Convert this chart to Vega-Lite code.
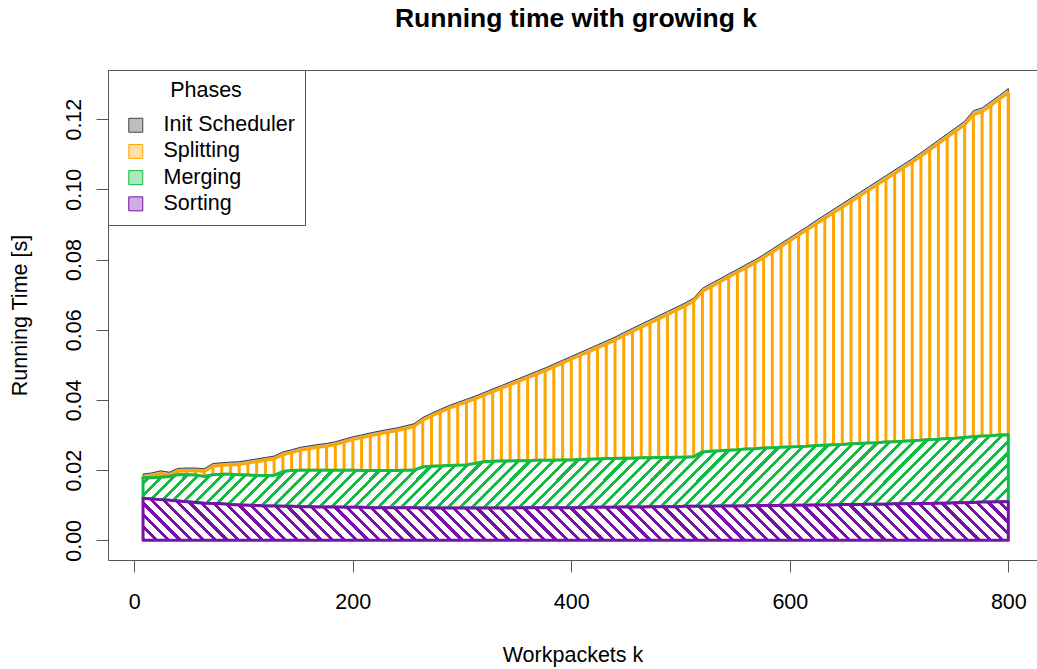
{
"$schema": "https://vega.github.io/schema/vega-lite/v6.json",
"width": 929, "height": 490,
"autosize": {"type": "none"},
"padding": {"left": 108, "top": 70, "right": 0, "bottom": 109},
"background": "white",
"title": {"text": "Running time with growing k", "font": "Liberation Sans", "fontSize": 26.5, "fontWeight": "bold", "color": "#000", "anchor": "middle", "frame": "group", "baseline": "alphabetic", "offset": 16, "dx": 3.5},
"datasets": {
"times": [
{"k":8,"sorting":0.0120,"merging":0.0178,"splitting":0.0181,"total":0.0189},
{"k":16,"sorting":0.0118,"merging":0.0178,"splitting":0.0184,"total":0.0192},
{"k":24,"sorting":0.0116,"merging":0.0180,"splitting":0.0190,"total":0.0198},
{"k":32,"sorting":0.0114,"merging":0.0182,"splitting":0.0186,"total":0.0194},
{"k":40,"sorting":0.0112,"merging":0.0187,"splitting":0.0197,"total":0.0205},
{"k":48,"sorting":0.0110,"merging":0.0187,"splitting":0.0198,"total":0.0206},
{"k":56,"sorting":0.0108,"merging":0.0186,"splitting":0.0198,"total":0.0206},
{"k":64,"sorting":0.0106,"merging":0.0182,"splitting":0.0196,"total":0.0204},
{"k":72,"sorting":0.0105,"merging":0.0187,"splitting":0.0211,"total":0.0219},
{"k":80,"sorting":0.0104,"merging":0.0188,"splitting":0.0213,"total":0.0221},
{"k":88,"sorting":0.0102,"merging":0.0188,"splitting":0.0215,"total":0.0223},
{"k":96,"sorting":0.0101,"merging":0.0187,"splitting":0.0216,"total":0.0224},
{"k":104,"sorting":0.0100,"merging":0.0186,"splitting":0.0220,"total":0.0228},
{"k":112,"sorting":0.0099,"merging":0.0185,"splitting":0.0224,"total":0.0232},
{"k":120,"sorting":0.0098,"merging":0.0185,"splitting":0.0228,"total":0.0236},
{"k":128,"sorting":0.0098,"merging":0.0185,"splitting":0.0232,"total":0.0240},
{"k":136,"sorting":0.0097,"merging":0.0196,"splitting":0.0244,"total":0.0252},
{"k":144,"sorting":0.0097,"merging":0.0199,"splitting":0.0250,"total":0.0258},
{"k":152,"sorting":0.0096,"merging":0.0200,"splitting":0.0257,"total":0.0265},
{"k":160,"sorting":0.0096,"merging":0.0200,"splitting":0.0261,"total":0.0269},
{"k":168,"sorting":0.0095,"merging":0.0200,"splitting":0.0265,"total":0.0273},
{"k":176,"sorting":0.0095,"merging":0.0200,"splitting":0.0268,"total":0.0276},
{"k":184,"sorting":0.0095,"merging":0.0200,"splitting":0.0273,"total":0.0281},
{"k":192,"sorting":0.0094,"merging":0.0200,"splitting":0.0280,"total":0.0288},
{"k":200,"sorting":0.0094,"merging":0.0200,"splitting":0.0287,"total":0.0295},
{"k":208,"sorting":0.0094,"merging":0.0199,"splitting":0.0292,"total":0.0300},
{"k":216,"sorting":0.0093,"merging":0.0199,"splitting":0.0298,"total":0.0306},
{"k":224,"sorting":0.0093,"merging":0.0199,"splitting":0.0303,"total":0.0311},
{"k":232,"sorting":0.0093,"merging":0.0199,"splitting":0.0308,"total":0.0316},
{"k":240,"sorting":0.0093,"merging":0.0199,"splitting":0.0312,"total":0.0320},
{"k":248,"sorting":0.0093,"merging":0.0200,"splitting":0.0318,"total":0.0326},
{"k":256,"sorting":0.0093,"merging":0.0200,"splitting":0.0324,"total":0.0332},
{"k":264,"sorting":0.0092,"merging":0.0209,"splitting":0.0342,"total":0.0350},
{"k":272,"sorting":0.0092,"merging":0.0211,"splitting":0.0354,"total":0.0362},
{"k":280,"sorting":0.0092,"merging":0.0212,"splitting":0.0365,"total":0.0373},
{"k":288,"sorting":0.0092,"merging":0.0213,"splitting":0.0376,"total":0.0384},
{"k":296,"sorting":0.0092,"merging":0.0214,"splitting":0.0385,"total":0.0393},
{"k":304,"sorting":0.0092,"merging":0.0215,"splitting":0.0394,"total":0.0402},
{"k":312,"sorting":0.0092,"merging":0.0219,"splitting":0.0403,"total":0.0411},
{"k":320,"sorting":0.0092,"merging":0.0224,"splitting":0.0413,"total":0.0421},
{"k":328,"sorting":0.0092,"merging":0.0225,"splitting":0.0423,"total":0.0431},
{"k":336,"sorting":0.0092,"merging":0.0226,"splitting":0.0433,"total":0.0441},
{"k":344,"sorting":0.0092,"merging":0.0226,"splitting":0.0443,"total":0.0451},
{"k":352,"sorting":0.0093,"merging":0.0227,"splitting":0.0453,"total":0.0461},
{"k":360,"sorting":0.0093,"merging":0.0227,"splitting":0.0463,"total":0.0471},
{"k":368,"sorting":0.0093,"merging":0.0228,"splitting":0.0473,"total":0.0481},
{"k":376,"sorting":0.0093,"merging":0.0228,"splitting":0.0483,"total":0.0491},
{"k":384,"sorting":0.0093,"merging":0.0228,"splitting":0.0494,"total":0.0502},
{"k":392,"sorting":0.0093,"merging":0.0229,"splitting":0.0505,"total":0.0513},
{"k":400,"sorting":0.0093,"merging":0.0229,"splitting":0.0516,"total":0.0524},
{"k":408,"sorting":0.0093,"merging":0.0230,"splitting":0.0527,"total":0.0535},
{"k":416,"sorting":0.0094,"merging":0.0231,"splitting":0.0537,"total":0.0546},
{"k":424,"sorting":0.0094,"merging":0.0232,"splitting":0.0548,"total":0.0557},
{"k":432,"sorting":0.0094,"merging":0.0233,"splitting":0.0559,"total":0.0568},
{"k":440,"sorting":0.0094,"merging":0.0233,"splitting":0.0570,"total":0.0579},
{"k":448,"sorting":0.0095,"merging":0.0234,"splitting":0.0583,"total":0.0592},
{"k":456,"sorting":0.0095,"merging":0.0234,"splitting":0.0595,"total":0.0604},
{"k":464,"sorting":0.0095,"merging":0.0235,"splitting":0.0607,"total":0.0616},
{"k":472,"sorting":0.0096,"merging":0.0235,"splitting":0.0619,"total":0.0628},
{"k":480,"sorting":0.0096,"merging":0.0236,"splitting":0.0631,"total":0.0640},
{"k":488,"sorting":0.0096,"merging":0.0236,"splitting":0.0643,"total":0.0652},
{"k":496,"sorting":0.0096,"merging":0.0237,"splitting":0.0655,"total":0.0664},
{"k":504,"sorting":0.0097,"merging":0.0237,"splitting":0.0667,"total":0.0676},
{"k":512,"sorting":0.0097,"merging":0.0238,"splitting":0.0681,"total":0.0690},
{"k":520,"sorting":0.0097,"merging":0.0252,"splitting":0.0709,"total":0.0718},
{"k":528,"sorting":0.0097,"merging":0.0254,"splitting":0.0723,"total":0.0732},
{"k":536,"sorting":0.0098,"merging":0.0255,"splitting":0.0736,"total":0.0745},
{"k":544,"sorting":0.0098,"merging":0.0257,"splitting":0.0750,"total":0.0759},
{"k":552,"sorting":0.0098,"merging":0.0258,"splitting":0.0763,"total":0.0772},
{"k":560,"sorting":0.0098,"merging":0.0260,"splitting":0.0777,"total":0.0786},
{"k":568,"sorting":0.0099,"merging":0.0261,"splitting":0.0790,"total":0.0799},
{"k":576,"sorting":0.0099,"merging":0.0263,"splitting":0.0805,"total":0.0814},
{"k":584,"sorting":0.0099,"merging":0.0264,"splitting":0.0821,"total":0.0830},
{"k":592,"sorting":0.0099,"merging":0.0265,"splitting":0.0837,"total":0.0846},
{"k":600,"sorting":0.0100,"merging":0.0266,"splitting":0.0853,"total":0.0862},
{"k":608,"sorting":0.0100,"merging":0.0267,"splitting":0.0869,"total":0.0878},
{"k":616,"sorting":0.0100,"merging":0.0268,"splitting":0.0885,"total":0.0894},
{"k":624,"sorting":0.0101,"merging":0.0270,"splitting":0.0901,"total":0.0911},
{"k":632,"sorting":0.0101,"merging":0.0271,"splitting":0.0917,"total":0.0927},
{"k":640,"sorting":0.0101,"merging":0.0272,"splitting":0.0933,"total":0.0943},
{"k":648,"sorting":0.0102,"merging":0.0273,"splitting":0.0949,"total":0.0959},
{"k":656,"sorting":0.0102,"merging":0.0275,"splitting":0.0965,"total":0.0975},
{"k":664,"sorting":0.0102,"merging":0.0276,"splitting":0.0981,"total":0.0991},
{"k":672,"sorting":0.0103,"merging":0.0277,"splitting":0.0997,"total":0.1007},
{"k":680,"sorting":0.0103,"merging":0.0278,"splitting":0.1013,"total":0.1023},
{"k":688,"sorting":0.0103,"merging":0.0280,"splitting":0.1029,"total":0.1039},
{"k":696,"sorting":0.0104,"merging":0.0281,"splitting":0.1045,"total":0.1055},
{"k":704,"sorting":0.0104,"merging":0.0282,"splitting":0.1061,"total":0.1071},
{"k":712,"sorting":0.0104,"merging":0.0284,"splitting":0.1077,"total":0.1087},
{"k":720,"sorting":0.0105,"merging":0.0285,"splitting":0.1094,"total":0.1104},
{"k":728,"sorting":0.0105,"merging":0.0287,"splitting":0.1112,"total":0.1122},
{"k":736,"sorting":0.0106,"merging":0.0288,"splitting":0.1130,"total":0.1140},
{"k":744,"sorting":0.0106,"merging":0.0290,"splitting":0.1148,"total":0.1158},
{"k":752,"sorting":0.0107,"merging":0.0291,"splitting":0.1166,"total":0.1176},
{"k":760,"sorting":0.0107,"merging":0.0293,"splitting":0.1183,"total":0.1194},
{"k":768,"sorting":0.0108,"merging":0.0295,"splitting":0.1213,"total":0.1224},
{"k":776,"sorting":0.0109,"merging":0.0297,"splitting":0.1221,"total":0.1232},
{"k":784,"sorting":0.0109,"merging":0.0298,"splitting":0.1239,"total":0.1250},
{"k":792,"sorting":0.0110,"merging":0.0300,"splitting":0.1257,"total":0.1268},
{"k":800,"sorting":0.0110,"merging":0.0301,"splitting":0.1275,"total":0.1287}
],
"phases": [{"phase":"Init Scheduler"},{"phase":"Splitting"},{"phase":"Merging"},{"phase":"Sorting"}]
},
"config": {
"font": "Liberation Sans",
"view": {"stroke": "#555", "strokeWidth": 1, "strokeDash": [929, 490, 1419, 0]},
"axis": {"grid": false, "domain": false, "tickSize": 12, "tickColor": "#555", "tickWidth": 1, "labelFont": "Liberation Sans", "labelFontSize": 21.5, "labelColor": "#000", "titleFont": "Liberation Sans", "titleFontSize": 21.5, "titleFontWeight": "normal", "titleColor": "#000", "labelFlush": false},
"axisX": {"labelPadding": 19, "titlePadding": 32},
"axisY": {"labelAngle": -90, "labelAlign": "center", "labelBaseline": "bottom", "labelPadding": 11, "titlePadding": 32},
"legend": {"orient": "top-left", "offset": 0, "padding": 10, "strokeColor": "#555", "fillColor": "#fff", "titleFont": "Liberation Sans", "titleFontSize": 21.5, "titleFontWeight": "normal", "titleColor": "#000", "titleAnchor": "middle", "titlePadding": 13, "labelFont": "Liberation Sans", "labelFontSize": 21.5, "labelColor": "#000", "labelOffset": 17, "symbolType": "square", "symbolSize": 196, "symbolStrokeWidth": 1, "symbolOpacity": 1, "rowPadding": 3.2, "symbolOffset": 7}
},
"layer": [
{"data": {"name": "times"},
 "mark": {"type": "area", "fill": "#BEBEBE", "stroke": "#3a3a3a", "strokeWidth": 1, "strokeJoin": "round"},
 "encoding": {
  "x": {"field": "k", "type": "quantitative", "title": "Workpackets k", "scale": {"domain": [-24.07, 826.25], "nice": false, "zero": false}, "axis": {"values": [0, 200, 400, 600, 800]}},
  "y": {"field": "total", "type": "quantitative", "title": "Running Time [s]", "scale": {"domain": [-0.0056, 0.134], "nice": false, "zero": false}, "axis": {"values": [0, 0.02, 0.04, 0.06, 0.08, 0.1, 0.12], "format": ".2f"}},
  "y2": {"field": "splitting"}}},
{"data": {"name": "times"},
 "mark": {"type": "area", "fill": "transparent", "stroke": "#FFA500", "strokeWidth": 3, "strokeJoin": "round"},
 "encoding": {
  "x": {"field": "k", "type": "quantitative", "title": "Workpackets k"},
  "y": {"field": "splitting", "type": "quantitative", "title": "Running Time [s]"},
  "y2": {"field": "merging"}}},
{"data": {"name": "times"},
 "mark": {"type": "rule", "stroke": "#FFA500", "strokeWidth": 3},
 "encoding": {
  "x": {"field": "k", "type": "quantitative", "title": "Workpackets k"},
  "y": {"field": "merging", "type": "quantitative", "title": "Running Time [s]"},
  "y2": {"field": "splitting"}}},
{"data": {"name": "times"},
 "mark": {"type": "area", "stroke": "#1b4", "strokeWidth": 3, "strokeJoin": "round",
  "fill": {"gradient": "linear", "x1": 0, "y1": 0, "x2": 1.0786, "y2": 0.0914, "stops": [
{"offset":0,"color":"#1b4"},{"offset":0.0045,"color":"#1b4"},{"offset":0.0045,"color":"#fff"},{"offset":0.0125,"color":"#fff"},
{"offset":0.0125,"color":"#1b4"},{"offset":0.017,"color":"#1b4"},{"offset":0.017,"color":"#fff"},{"offset":0.025,"color":"#fff"},
{"offset":0.025,"color":"#1b4"},{"offset":0.0295,"color":"#1b4"},{"offset":0.0295,"color":"#fff"},{"offset":0.0375,"color":"#fff"},
{"offset":0.0375,"color":"#1b4"},{"offset":0.042,"color":"#1b4"},{"offset":0.042,"color":"#fff"},{"offset":0.05,"color":"#fff"},
{"offset":0.05,"color":"#1b4"},{"offset":0.0545,"color":"#1b4"},{"offset":0.0545,"color":"#fff"},{"offset":0.0625,"color":"#fff"},
{"offset":0.0625,"color":"#1b4"},{"offset":0.067,"color":"#1b4"},{"offset":0.067,"color":"#fff"},{"offset":0.075,"color":"#fff"},
{"offset":0.075,"color":"#1b4"},{"offset":0.0795,"color":"#1b4"},{"offset":0.0795,"color":"#fff"},{"offset":0.0875,"color":"#fff"},
{"offset":0.0875,"color":"#1b4"},{"offset":0.092,"color":"#1b4"},{"offset":0.092,"color":"#fff"},{"offset":0.1,"color":"#fff"},
{"offset":0.1,"color":"#1b4"},{"offset":0.1045,"color":"#1b4"},{"offset":0.1045,"color":"#fff"},{"offset":0.1125,"color":"#fff"},
{"offset":0.1125,"color":"#1b4"},{"offset":0.117,"color":"#1b4"},{"offset":0.117,"color":"#fff"},{"offset":0.125,"color":"#fff"},
{"offset":0.125,"color":"#1b4"},{"offset":0.1295,"color":"#1b4"},{"offset":0.1295,"color":"#fff"},{"offset":0.1375,"color":"#fff"},
{"offset":0.1375,"color":"#1b4"},{"offset":0.142,"color":"#1b4"},{"offset":0.142,"color":"#fff"},{"offset":0.15,"color":"#fff"},
{"offset":0.15,"color":"#1b4"},{"offset":0.1545,"color":"#1b4"},{"offset":0.1545,"color":"#fff"},{"offset":0.1625,"color":"#fff"},
{"offset":0.1625,"color":"#1b4"},{"offset":0.167,"color":"#1b4"},{"offset":0.167,"color":"#fff"},{"offset":0.175,"color":"#fff"},
{"offset":0.175,"color":"#1b4"},{"offset":0.1795,"color":"#1b4"},{"offset":0.1795,"color":"#fff"},{"offset":0.1875,"color":"#fff"},
{"offset":0.1875,"color":"#1b4"},{"offset":0.192,"color":"#1b4"},{"offset":0.192,"color":"#fff"},{"offset":0.2,"color":"#fff"},
{"offset":0.2,"color":"#1b4"},{"offset":0.2045,"color":"#1b4"},{"offset":0.2045,"color":"#fff"},{"offset":0.2125,"color":"#fff"},
{"offset":0.2125,"color":"#1b4"},{"offset":0.217,"color":"#1b4"},{"offset":0.217,"color":"#fff"},{"offset":0.225,"color":"#fff"},
{"offset":0.225,"color":"#1b4"},{"offset":0.2295,"color":"#1b4"},{"offset":0.2295,"color":"#fff"},{"offset":0.2375,"color":"#fff"},
{"offset":0.2375,"color":"#1b4"},{"offset":0.242,"color":"#1b4"},{"offset":0.242,"color":"#fff"},{"offset":0.25,"color":"#fff"},
{"offset":0.25,"color":"#1b4"},{"offset":0.2545,"color":"#1b4"},{"offset":0.2545,"color":"#fff"},{"offset":0.2625,"color":"#fff"},
{"offset":0.2625,"color":"#1b4"},{"offset":0.267,"color":"#1b4"},{"offset":0.267,"color":"#fff"},{"offset":0.275,"color":"#fff"},
{"offset":0.275,"color":"#1b4"},{"offset":0.2795,"color":"#1b4"},{"offset":0.2795,"color":"#fff"},{"offset":0.2875,"color":"#fff"},
{"offset":0.2875,"color":"#1b4"},{"offset":0.292,"color":"#1b4"},{"offset":0.292,"color":"#fff"},{"offset":0.3,"color":"#fff"},
{"offset":0.3,"color":"#1b4"},{"offset":0.3045,"color":"#1b4"},{"offset":0.3045,"color":"#fff"},{"offset":0.3125,"color":"#fff"},
{"offset":0.3125,"color":"#1b4"},{"offset":0.317,"color":"#1b4"},{"offset":0.317,"color":"#fff"},{"offset":0.325,"color":"#fff"},
{"offset":0.325,"color":"#1b4"},{"offset":0.3295,"color":"#1b4"},{"offset":0.3295,"color":"#fff"},{"offset":0.3375,"color":"#fff"},
{"offset":0.3375,"color":"#1b4"},{"offset":0.342,"color":"#1b4"},{"offset":0.342,"color":"#fff"},{"offset":0.35,"color":"#fff"},
{"offset":0.35,"color":"#1b4"},{"offset":0.3545,"color":"#1b4"},{"offset":0.3545,"color":"#fff"},{"offset":0.3625,"color":"#fff"},
{"offset":0.3625,"color":"#1b4"},{"offset":0.367,"color":"#1b4"},{"offset":0.367,"color":"#fff"},{"offset":0.375,"color":"#fff"},
{"offset":0.375,"color":"#1b4"},{"offset":0.3795,"color":"#1b4"},{"offset":0.3795,"color":"#fff"},{"offset":0.3875,"color":"#fff"},
{"offset":0.3875,"color":"#1b4"},{"offset":0.392,"color":"#1b4"},{"offset":0.392,"color":"#fff"},{"offset":0.4,"color":"#fff"},
{"offset":0.4,"color":"#1b4"},{"offset":0.4045,"color":"#1b4"},{"offset":0.4045,"color":"#fff"},{"offset":0.4125,"color":"#fff"},
{"offset":0.4125,"color":"#1b4"},{"offset":0.417,"color":"#1b4"},{"offset":0.417,"color":"#fff"},{"offset":0.425,"color":"#fff"},
{"offset":0.425,"color":"#1b4"},{"offset":0.4295,"color":"#1b4"},{"offset":0.4295,"color":"#fff"},{"offset":0.4375,"color":"#fff"},
{"offset":0.4375,"color":"#1b4"},{"offset":0.442,"color":"#1b4"},{"offset":0.442,"color":"#fff"},{"offset":0.45,"color":"#fff"},
{"offset":0.45,"color":"#1b4"},{"offset":0.4545,"color":"#1b4"},{"offset":0.4545,"color":"#fff"},{"offset":0.4625,"color":"#fff"},
{"offset":0.4625,"color":"#1b4"},{"offset":0.467,"color":"#1b4"},{"offset":0.467,"color":"#fff"},{"offset":0.475,"color":"#fff"},
{"offset":0.475,"color":"#1b4"},{"offset":0.4795,"color":"#1b4"},{"offset":0.4795,"color":"#fff"},{"offset":0.4875,"color":"#fff"},
{"offset":0.4875,"color":"#1b4"},{"offset":0.492,"color":"#1b4"},{"offset":0.492,"color":"#fff"},{"offset":0.5,"color":"#fff"},
{"offset":0.5,"color":"#1b4"},{"offset":0.5045,"color":"#1b4"},{"offset":0.5045,"color":"#fff"},{"offset":0.5125,"color":"#fff"},
{"offset":0.5125,"color":"#1b4"},{"offset":0.517,"color":"#1b4"},{"offset":0.517,"color":"#fff"},{"offset":0.525,"color":"#fff"},
{"offset":0.525,"color":"#1b4"},{"offset":0.5295,"color":"#1b4"},{"offset":0.5295,"color":"#fff"},{"offset":0.5375,"color":"#fff"},
{"offset":0.5375,"color":"#1b4"},{"offset":0.542,"color":"#1b4"},{"offset":0.542,"color":"#fff"},{"offset":0.55,"color":"#fff"},
{"offset":0.55,"color":"#1b4"},{"offset":0.5545,"color":"#1b4"},{"offset":0.5545,"color":"#fff"},{"offset":0.5625,"color":"#fff"},
{"offset":0.5625,"color":"#1b4"},{"offset":0.567,"color":"#1b4"},{"offset":0.567,"color":"#fff"},{"offset":0.575,"color":"#fff"},
{"offset":0.575,"color":"#1b4"},{"offset":0.5795,"color":"#1b4"},{"offset":0.5795,"color":"#fff"},{"offset":0.5875,"color":"#fff"},
{"offset":0.5875,"color":"#1b4"},{"offset":0.592,"color":"#1b4"},{"offset":0.592,"color":"#fff"},{"offset":0.6,"color":"#fff"},
{"offset":0.6,"color":"#1b4"},{"offset":0.6045,"color":"#1b4"},{"offset":0.6045,"color":"#fff"},{"offset":0.6125,"color":"#fff"},
{"offset":0.6125,"color":"#1b4"},{"offset":0.617,"color":"#1b4"},{"offset":0.617,"color":"#fff"},{"offset":0.625,"color":"#fff"},
{"offset":0.625,"color":"#1b4"},{"offset":0.6295,"color":"#1b4"},{"offset":0.6295,"color":"#fff"},{"offset":0.6375,"color":"#fff"},
{"offset":0.6375,"color":"#1b4"},{"offset":0.642,"color":"#1b4"},{"offset":0.642,"color":"#fff"},{"offset":0.65,"color":"#fff"},
{"offset":0.65,"color":"#1b4"},{"offset":0.6545,"color":"#1b4"},{"offset":0.6545,"color":"#fff"},{"offset":0.6625,"color":"#fff"},
{"offset":0.6625,"color":"#1b4"},{"offset":0.667,"color":"#1b4"},{"offset":0.667,"color":"#fff"},{"offset":0.675,"color":"#fff"},
{"offset":0.675,"color":"#1b4"},{"offset":0.6795,"color":"#1b4"},{"offset":0.6795,"color":"#fff"},{"offset":0.6875,"color":"#fff"},
{"offset":0.6875,"color":"#1b4"},{"offset":0.692,"color":"#1b4"},{"offset":0.692,"color":"#fff"},{"offset":0.7,"color":"#fff"},
{"offset":0.7,"color":"#1b4"},{"offset":0.7045,"color":"#1b4"},{"offset":0.7045,"color":"#fff"},{"offset":0.7125,"color":"#fff"},
{"offset":0.7125,"color":"#1b4"},{"offset":0.717,"color":"#1b4"},{"offset":0.717,"color":"#fff"},{"offset":0.725,"color":"#fff"},
{"offset":0.725,"color":"#1b4"},{"offset":0.7295,"color":"#1b4"},{"offset":0.7295,"color":"#fff"},{"offset":0.7375,"color":"#fff"},
{"offset":0.7375,"color":"#1b4"},{"offset":0.742,"color":"#1b4"},{"offset":0.742,"color":"#fff"},{"offset":0.75,"color":"#fff"},
{"offset":0.75,"color":"#1b4"},{"offset":0.7545,"color":"#1b4"},{"offset":0.7545,"color":"#fff"},{"offset":0.7625,"color":"#fff"},
{"offset":0.7625,"color":"#1b4"},{"offset":0.767,"color":"#1b4"},{"offset":0.767,"color":"#fff"},{"offset":0.775,"color":"#fff"},
{"offset":0.775,"color":"#1b4"},{"offset":0.7795,"color":"#1b4"},{"offset":0.7795,"color":"#fff"},{"offset":0.7875,"color":"#fff"},
{"offset":0.7875,"color":"#1b4"},{"offset":0.792,"color":"#1b4"},{"offset":0.792,"color":"#fff"},{"offset":0.8,"color":"#fff"},
{"offset":0.8,"color":"#1b4"},{"offset":0.8045,"color":"#1b4"},{"offset":0.8045,"color":"#fff"},{"offset":0.8125,"color":"#fff"},
{"offset":0.8125,"color":"#1b4"},{"offset":0.817,"color":"#1b4"},{"offset":0.817,"color":"#fff"},{"offset":0.825,"color":"#fff"},
{"offset":0.825,"color":"#1b4"},{"offset":0.8295,"color":"#1b4"},{"offset":0.8295,"color":"#fff"},{"offset":0.8375,"color":"#fff"},
{"offset":0.8375,"color":"#1b4"},{"offset":0.842,"color":"#1b4"},{"offset":0.842,"color":"#fff"},{"offset":0.85,"color":"#fff"},
{"offset":0.85,"color":"#1b4"},{"offset":0.8545,"color":"#1b4"},{"offset":0.8545,"color":"#fff"},{"offset":0.8625,"color":"#fff"},
{"offset":0.8625,"color":"#1b4"},{"offset":0.867,"color":"#1b4"},{"offset":0.867,"color":"#fff"},{"offset":0.875,"color":"#fff"},
{"offset":0.875,"color":"#1b4"},{"offset":0.8795,"color":"#1b4"},{"offset":0.8795,"color":"#fff"},{"offset":0.8875,"color":"#fff"},
{"offset":0.8875,"color":"#1b4"},{"offset":0.892,"color":"#1b4"},{"offset":0.892,"color":"#fff"},{"offset":0.9,"color":"#fff"},
{"offset":0.9,"color":"#1b4"},{"offset":0.9045,"color":"#1b4"},{"offset":0.9045,"color":"#fff"},{"offset":0.9125,"color":"#fff"},
{"offset":0.9125,"color":"#1b4"},{"offset":0.917,"color":"#1b4"},{"offset":0.917,"color":"#fff"},{"offset":0.925,"color":"#fff"},
{"offset":0.925,"color":"#1b4"},{"offset":0.9295,"color":"#1b4"},{"offset":0.9295,"color":"#fff"},{"offset":0.9375,"color":"#fff"},
{"offset":0.9375,"color":"#1b4"},{"offset":0.942,"color":"#1b4"},{"offset":0.942,"color":"#fff"},{"offset":0.95,"color":"#fff"},
{"offset":0.95,"color":"#1b4"},{"offset":0.9545,"color":"#1b4"},{"offset":0.9545,"color":"#fff"},{"offset":0.9625,"color":"#fff"},
{"offset":0.9625,"color":"#1b4"},{"offset":0.967,"color":"#1b4"},{"offset":0.967,"color":"#fff"},{"offset":0.975,"color":"#fff"},
{"offset":0.975,"color":"#1b4"},{"offset":0.9795,"color":"#1b4"},{"offset":0.9795,"color":"#fff"},{"offset":0.9875,"color":"#fff"},
{"offset":0.9875,"color":"#1b4"},{"offset":0.992,"color":"#1b4"},{"offset":0.992,"color":"#fff"},{"offset":1,"color":"#fff"}
  ]}},
 "encoding": {
  "x": {"field": "k", "type": "quantitative", "title": "Workpackets k"},
  "y": {"field": "merging", "type": "quantitative", "title": "Running Time [s]"},
  "y2": {"field": "sorting"}}},
{"data": {"name": "times"},
 "mark": {"type": "area", "stroke": "#71a", "strokeWidth": 3, "strokeJoin": "round",
  "fill": {"gradient": "linear", "x1": 0, "y1": 1, "x2": 1.0838, "y2": 0.9473, "stops": [
{"offset":0,"color":"#71a"},{"offset":0.0045,"color":"#71a"},{"offset":0.0045,"color":"#fff"},{"offset":0.0125,"color":"#fff"},
{"offset":0.0125,"color":"#71a"},{"offset":0.017,"color":"#71a"},{"offset":0.017,"color":"#fff"},{"offset":0.025,"color":"#fff"},
{"offset":0.025,"color":"#71a"},{"offset":0.0295,"color":"#71a"},{"offset":0.0295,"color":"#fff"},{"offset":0.0375,"color":"#fff"},
{"offset":0.0375,"color":"#71a"},{"offset":0.042,"color":"#71a"},{"offset":0.042,"color":"#fff"},{"offset":0.05,"color":"#fff"},
{"offset":0.05,"color":"#71a"},{"offset":0.0545,"color":"#71a"},{"offset":0.0545,"color":"#fff"},{"offset":0.0625,"color":"#fff"},
{"offset":0.0625,"color":"#71a"},{"offset":0.067,"color":"#71a"},{"offset":0.067,"color":"#fff"},{"offset":0.075,"color":"#fff"},
{"offset":0.075,"color":"#71a"},{"offset":0.0795,"color":"#71a"},{"offset":0.0795,"color":"#fff"},{"offset":0.0875,"color":"#fff"},
{"offset":0.0875,"color":"#71a"},{"offset":0.092,"color":"#71a"},{"offset":0.092,"color":"#fff"},{"offset":0.1,"color":"#fff"},
{"offset":0.1,"color":"#71a"},{"offset":0.1045,"color":"#71a"},{"offset":0.1045,"color":"#fff"},{"offset":0.1125,"color":"#fff"},
{"offset":0.1125,"color":"#71a"},{"offset":0.117,"color":"#71a"},{"offset":0.117,"color":"#fff"},{"offset":0.125,"color":"#fff"},
{"offset":0.125,"color":"#71a"},{"offset":0.1295,"color":"#71a"},{"offset":0.1295,"color":"#fff"},{"offset":0.1375,"color":"#fff"},
{"offset":0.1375,"color":"#71a"},{"offset":0.142,"color":"#71a"},{"offset":0.142,"color":"#fff"},{"offset":0.15,"color":"#fff"},
{"offset":0.15,"color":"#71a"},{"offset":0.1545,"color":"#71a"},{"offset":0.1545,"color":"#fff"},{"offset":0.1625,"color":"#fff"},
{"offset":0.1625,"color":"#71a"},{"offset":0.167,"color":"#71a"},{"offset":0.167,"color":"#fff"},{"offset":0.175,"color":"#fff"},
{"offset":0.175,"color":"#71a"},{"offset":0.1795,"color":"#71a"},{"offset":0.1795,"color":"#fff"},{"offset":0.1875,"color":"#fff"},
{"offset":0.1875,"color":"#71a"},{"offset":0.192,"color":"#71a"},{"offset":0.192,"color":"#fff"},{"offset":0.2,"color":"#fff"},
{"offset":0.2,"color":"#71a"},{"offset":0.2045,"color":"#71a"},{"offset":0.2045,"color":"#fff"},{"offset":0.2125,"color":"#fff"},
{"offset":0.2125,"color":"#71a"},{"offset":0.217,"color":"#71a"},{"offset":0.217,"color":"#fff"},{"offset":0.225,"color":"#fff"},
{"offset":0.225,"color":"#71a"},{"offset":0.2295,"color":"#71a"},{"offset":0.2295,"color":"#fff"},{"offset":0.2375,"color":"#fff"},
{"offset":0.2375,"color":"#71a"},{"offset":0.242,"color":"#71a"},{"offset":0.242,"color":"#fff"},{"offset":0.25,"color":"#fff"},
{"offset":0.25,"color":"#71a"},{"offset":0.2545,"color":"#71a"},{"offset":0.2545,"color":"#fff"},{"offset":0.2625,"color":"#fff"},
{"offset":0.2625,"color":"#71a"},{"offset":0.267,"color":"#71a"},{"offset":0.267,"color":"#fff"},{"offset":0.275,"color":"#fff"},
{"offset":0.275,"color":"#71a"},{"offset":0.2795,"color":"#71a"},{"offset":0.2795,"color":"#fff"},{"offset":0.2875,"color":"#fff"},
{"offset":0.2875,"color":"#71a"},{"offset":0.292,"color":"#71a"},{"offset":0.292,"color":"#fff"},{"offset":0.3,"color":"#fff"},
{"offset":0.3,"color":"#71a"},{"offset":0.3045,"color":"#71a"},{"offset":0.3045,"color":"#fff"},{"offset":0.3125,"color":"#fff"},
{"offset":0.3125,"color":"#71a"},{"offset":0.317,"color":"#71a"},{"offset":0.317,"color":"#fff"},{"offset":0.325,"color":"#fff"},
{"offset":0.325,"color":"#71a"},{"offset":0.3295,"color":"#71a"},{"offset":0.3295,"color":"#fff"},{"offset":0.3375,"color":"#fff"},
{"offset":0.3375,"color":"#71a"},{"offset":0.342,"color":"#71a"},{"offset":0.342,"color":"#fff"},{"offset":0.35,"color":"#fff"},
{"offset":0.35,"color":"#71a"},{"offset":0.3545,"color":"#71a"},{"offset":0.3545,"color":"#fff"},{"offset":0.3625,"color":"#fff"},
{"offset":0.3625,"color":"#71a"},{"offset":0.367,"color":"#71a"},{"offset":0.367,"color":"#fff"},{"offset":0.375,"color":"#fff"},
{"offset":0.375,"color":"#71a"},{"offset":0.3795,"color":"#71a"},{"offset":0.3795,"color":"#fff"},{"offset":0.3875,"color":"#fff"},
{"offset":0.3875,"color":"#71a"},{"offset":0.392,"color":"#71a"},{"offset":0.392,"color":"#fff"},{"offset":0.4,"color":"#fff"},
{"offset":0.4,"color":"#71a"},{"offset":0.4045,"color":"#71a"},{"offset":0.4045,"color":"#fff"},{"offset":0.4125,"color":"#fff"},
{"offset":0.4125,"color":"#71a"},{"offset":0.417,"color":"#71a"},{"offset":0.417,"color":"#fff"},{"offset":0.425,"color":"#fff"},
{"offset":0.425,"color":"#71a"},{"offset":0.4295,"color":"#71a"},{"offset":0.4295,"color":"#fff"},{"offset":0.4375,"color":"#fff"},
{"offset":0.4375,"color":"#71a"},{"offset":0.442,"color":"#71a"},{"offset":0.442,"color":"#fff"},{"offset":0.45,"color":"#fff"},
{"offset":0.45,"color":"#71a"},{"offset":0.4545,"color":"#71a"},{"offset":0.4545,"color":"#fff"},{"offset":0.4625,"color":"#fff"},
{"offset":0.4625,"color":"#71a"},{"offset":0.467,"color":"#71a"},{"offset":0.467,"color":"#fff"},{"offset":0.475,"color":"#fff"},
{"offset":0.475,"color":"#71a"},{"offset":0.4795,"color":"#71a"},{"offset":0.4795,"color":"#fff"},{"offset":0.4875,"color":"#fff"},
{"offset":0.4875,"color":"#71a"},{"offset":0.492,"color":"#71a"},{"offset":0.492,"color":"#fff"},{"offset":0.5,"color":"#fff"},
{"offset":0.5,"color":"#71a"},{"offset":0.5045,"color":"#71a"},{"offset":0.5045,"color":"#fff"},{"offset":0.5125,"color":"#fff"},
{"offset":0.5125,"color":"#71a"},{"offset":0.517,"color":"#71a"},{"offset":0.517,"color":"#fff"},{"offset":0.525,"color":"#fff"},
{"offset":0.525,"color":"#71a"},{"offset":0.5295,"color":"#71a"},{"offset":0.5295,"color":"#fff"},{"offset":0.5375,"color":"#fff"},
{"offset":0.5375,"color":"#71a"},{"offset":0.542,"color":"#71a"},{"offset":0.542,"color":"#fff"},{"offset":0.55,"color":"#fff"},
{"offset":0.55,"color":"#71a"},{"offset":0.5545,"color":"#71a"},{"offset":0.5545,"color":"#fff"},{"offset":0.5625,"color":"#fff"},
{"offset":0.5625,"color":"#71a"},{"offset":0.567,"color":"#71a"},{"offset":0.567,"color":"#fff"},{"offset":0.575,"color":"#fff"},
{"offset":0.575,"color":"#71a"},{"offset":0.5795,"color":"#71a"},{"offset":0.5795,"color":"#fff"},{"offset":0.5875,"color":"#fff"},
{"offset":0.5875,"color":"#71a"},{"offset":0.592,"color":"#71a"},{"offset":0.592,"color":"#fff"},{"offset":0.6,"color":"#fff"},
{"offset":0.6,"color":"#71a"},{"offset":0.6045,"color":"#71a"},{"offset":0.6045,"color":"#fff"},{"offset":0.6125,"color":"#fff"},
{"offset":0.6125,"color":"#71a"},{"offset":0.617,"color":"#71a"},{"offset":0.617,"color":"#fff"},{"offset":0.625,"color":"#fff"},
{"offset":0.625,"color":"#71a"},{"offset":0.6295,"color":"#71a"},{"offset":0.6295,"color":"#fff"},{"offset":0.6375,"color":"#fff"},
{"offset":0.6375,"color":"#71a"},{"offset":0.642,"color":"#71a"},{"offset":0.642,"color":"#fff"},{"offset":0.65,"color":"#fff"},
{"offset":0.65,"color":"#71a"},{"offset":0.6545,"color":"#71a"},{"offset":0.6545,"color":"#fff"},{"offset":0.6625,"color":"#fff"},
{"offset":0.6625,"color":"#71a"},{"offset":0.667,"color":"#71a"},{"offset":0.667,"color":"#fff"},{"offset":0.675,"color":"#fff"},
{"offset":0.675,"color":"#71a"},{"offset":0.6795,"color":"#71a"},{"offset":0.6795,"color":"#fff"},{"offset":0.6875,"color":"#fff"},
{"offset":0.6875,"color":"#71a"},{"offset":0.692,"color":"#71a"},{"offset":0.692,"color":"#fff"},{"offset":0.7,"color":"#fff"},
{"offset":0.7,"color":"#71a"},{"offset":0.7045,"color":"#71a"},{"offset":0.7045,"color":"#fff"},{"offset":0.7125,"color":"#fff"},
{"offset":0.7125,"color":"#71a"},{"offset":0.717,"color":"#71a"},{"offset":0.717,"color":"#fff"},{"offset":0.725,"color":"#fff"},
{"offset":0.725,"color":"#71a"},{"offset":0.7295,"color":"#71a"},{"offset":0.7295,"color":"#fff"},{"offset":0.7375,"color":"#fff"},
{"offset":0.7375,"color":"#71a"},{"offset":0.742,"color":"#71a"},{"offset":0.742,"color":"#fff"},{"offset":0.75,"color":"#fff"},
{"offset":0.75,"color":"#71a"},{"offset":0.7545,"color":"#71a"},{"offset":0.7545,"color":"#fff"},{"offset":0.7625,"color":"#fff"},
{"offset":0.7625,"color":"#71a"},{"offset":0.767,"color":"#71a"},{"offset":0.767,"color":"#fff"},{"offset":0.775,"color":"#fff"},
{"offset":0.775,"color":"#71a"},{"offset":0.7795,"color":"#71a"},{"offset":0.7795,"color":"#fff"},{"offset":0.7875,"color":"#fff"},
{"offset":0.7875,"color":"#71a"},{"offset":0.792,"color":"#71a"},{"offset":0.792,"color":"#fff"},{"offset":0.8,"color":"#fff"},
{"offset":0.8,"color":"#71a"},{"offset":0.8045,"color":"#71a"},{"offset":0.8045,"color":"#fff"},{"offset":0.8125,"color":"#fff"},
{"offset":0.8125,"color":"#71a"},{"offset":0.817,"color":"#71a"},{"offset":0.817,"color":"#fff"},{"offset":0.825,"color":"#fff"},
{"offset":0.825,"color":"#71a"},{"offset":0.8295,"color":"#71a"},{"offset":0.8295,"color":"#fff"},{"offset":0.8375,"color":"#fff"},
{"offset":0.8375,"color":"#71a"},{"offset":0.842,"color":"#71a"},{"offset":0.842,"color":"#fff"},{"offset":0.85,"color":"#fff"},
{"offset":0.85,"color":"#71a"},{"offset":0.8545,"color":"#71a"},{"offset":0.8545,"color":"#fff"},{"offset":0.8625,"color":"#fff"},
{"offset":0.8625,"color":"#71a"},{"offset":0.867,"color":"#71a"},{"offset":0.867,"color":"#fff"},{"offset":0.875,"color":"#fff"},
{"offset":0.875,"color":"#71a"},{"offset":0.8795,"color":"#71a"},{"offset":0.8795,"color":"#fff"},{"offset":0.8875,"color":"#fff"},
{"offset":0.8875,"color":"#71a"},{"offset":0.892,"color":"#71a"},{"offset":0.892,"color":"#fff"},{"offset":0.9,"color":"#fff"},
{"offset":0.9,"color":"#71a"},{"offset":0.9045,"color":"#71a"},{"offset":0.9045,"color":"#fff"},{"offset":0.9125,"color":"#fff"},
{"offset":0.9125,"color":"#71a"},{"offset":0.917,"color":"#71a"},{"offset":0.917,"color":"#fff"},{"offset":0.925,"color":"#fff"},
{"offset":0.925,"color":"#71a"},{"offset":0.9295,"color":"#71a"},{"offset":0.9295,"color":"#fff"},{"offset":0.9375,"color":"#fff"},
{"offset":0.9375,"color":"#71a"},{"offset":0.942,"color":"#71a"},{"offset":0.942,"color":"#fff"},{"offset":0.95,"color":"#fff"},
{"offset":0.95,"color":"#71a"},{"offset":0.9545,"color":"#71a"},{"offset":0.9545,"color":"#fff"},{"offset":0.9625,"color":"#fff"},
{"offset":0.9625,"color":"#71a"},{"offset":0.967,"color":"#71a"},{"offset":0.967,"color":"#fff"},{"offset":0.975,"color":"#fff"},
{"offset":0.975,"color":"#71a"},{"offset":0.9795,"color":"#71a"},{"offset":0.9795,"color":"#fff"},{"offset":0.9875,"color":"#fff"},
{"offset":0.9875,"color":"#71a"},{"offset":0.992,"color":"#71a"},{"offset":0.992,"color":"#fff"},{"offset":1,"color":"#fff"}
  ]}},
 "encoding": {
  "x": {"field": "k", "type": "quantitative", "title": "Workpackets k"},
  "y": {"field": "sorting", "type": "quantitative", "title": "Running Time [s]"},
  "y2": {"datum": 0}}},
{"data": {"name": "phases"},
 "mark": {"type": "point", "shape": "square", "filled": true, "opacity": 0},
 "encoding": {
  "fill": {"field": "phase", "type": "nominal", "title": "Phases", "scale": {"domain": ["Init Scheduler", "Splitting", "Merging", "Sorting"], "range": ["#BEBEBE", "#FFDFA6", "#ACE7BE", "#CFACE1"]}},
  "stroke": {"field": "phase", "type": "nominal", "title": "Phases", "scale": {"domain": ["Init Scheduler", "Splitting", "Merging", "Sorting"], "range": ["#444", "#FFA500", "#1b4", "#71a"]}}}}
]
}
